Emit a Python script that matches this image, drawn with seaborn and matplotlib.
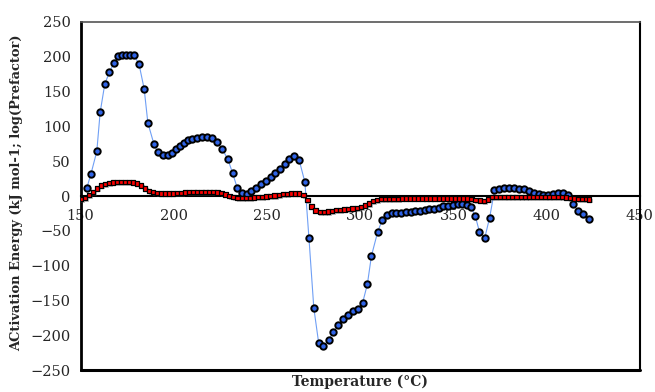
import matplotlib
matplotlib.use("Agg")
import matplotlib.pyplot as plt
import matplotlib.patheffects as pe
import seaborn as sns

# blue series: activation energy (kJ/mol)
blue_temp = [153.4, 155.5, 158.7, 160.5, 163.0, 165.5, 167.9, 170.0, 172.0, 174.1,
             176.3, 178.4, 181.3, 184.1, 186.1, 189.3, 191.4, 194.3, 196.8, 199.1,
             201.3, 203.4, 205.4, 207.5, 209.8, 212.5, 215.2, 217.9, 220.6, 223.3,
             225.8, 229.0, 231.5, 234.0, 236.5, 239.0, 241.5, 244.2, 246.7, 249.4,
             251.9, 254.4, 256.9, 259.5, 261.8, 264.5, 267.2, 270.3, 272.5, 275.1,
             277.7, 280.1, 283.0, 285.5, 288.1, 290.6, 293.2, 296.2, 298.7, 301.3,
             303.8, 306.0, 309.4, 311.7, 314.2, 316.8, 319.2, 321.7, 324.3, 327.0,
             329.4, 331.9, 334.5, 336.9, 339.4, 342.1, 344.6, 347.1, 349.8, 352.3,
             354.8, 357.1, 359.4, 361.7, 363.9, 366.7, 369.4, 372.0, 374.3, 377.0,
             379.6, 382.3, 385.0, 387.7, 390.4, 393.0, 395.6, 398.2, 400.8, 403.4,
             406.0, 408.7, 411.3, 414.1, 417.0, 419.7, 422.7]
blue_val = [12, 31, 64, 120, 161, 178, 191, 201, 203, 203,
            203, 203, 190, 154, 105, 75, 63, 59, 59, 62,
            67, 72, 76, 80, 82, 84, 85, 85, 83, 78,
            68, 53, 33, 12, 4, 3, 7, 12, 17, 22,
            27, 33, 39, 46, 53, 57, 52, 20, -61, -161,
            -211, -216, -207, -196, -185, -177, -171, -165, -162, -153,
            -127, -86, -51, -35, -27, -25, -24, -24, -23, -22.5,
            -22, -21.5, -20, -19, -18, -17, -15, -14.5, -13, -12,
            -11, -12.5, -16, -29, -51, -61, -31, 8, 10, 11,
            11, 11, 10.5, 9.5, 7.5, 5, 3, 2, 2, 3,
            4, 5, 2, -12, -21.5, -26.5, -32.5]

# red series: log(prefactor)
red_temp = [150.3, 152.5, 154.6, 156.8, 158.9, 161.0, 163.2, 165.3, 167.5, 169.6,
            171.8, 173.9, 176.1, 178.2, 180.3, 182.5, 184.6, 186.8, 188.9, 191.1,
            193.2, 195.4, 197.5, 199.7, 201.8, 204.0, 206.1, 208.3, 210.5, 212.6,
            214.8, 216.9, 219.1, 221.2, 223.4, 225.5, 227.7, 229.8, 232.0, 234.2,
            236.5, 238.7, 240.9, 243.1, 245.3, 247.5, 249.7, 251.9, 254.1, 256.3,
            258.5, 260.7, 262.9, 265.1, 267.3, 269.5, 271.7, 273.9, 276.1, 278.3,
            280.5, 282.7, 284.9, 287.1, 289.3, 291.5, 293.7, 295.9, 298.1, 300.3,
            302.5, 304.7, 306.9, 309.1, 311.3, 313.5, 315.7, 317.9, 320.1, 322.3,
            324.5, 326.7, 328.9, 331.1, 333.3, 335.5, 337.7, 339.9, 342.1, 344.3,
            346.5, 348.7, 350.9, 353.1, 355.3, 357.5, 359.7, 361.9, 364.1, 366.3,
            368.5, 370.7, 372.9, 375.1, 377.3, 379.5, 381.7, 383.9, 386.1, 388.3,
            390.5, 392.7, 394.9, 397.1, 399.3, 401.5, 403.7, 405.9, 408.1, 410.3,
            412.5, 414.7, 416.9, 419.1, 421.3, 422.7]
red_val = [-4, -2.5, 1, 6, 11, 15, 17, 18.5, 19.5, 20,
           20, 20, 20, 19.5, 18, 15, 11, 7.5, 5.5, 4,
           3.5, 3.5, 3.5, 3.5, 4, 4.5, 5, 5.5, 6, 6,
           6, 6, 6, 5.7, 5.3, 4.3, 2.4, 0, -1.5, -2.5,
           -3, -3, -2.5, -2, -1.5, -1, -0.5, 0, 0.5, 1.5,
           2.5, 3, 3.5, 3.5, 3.5, 1, -6, -15, -21, -23,
           -23, -22.5, -21.5, -20.5, -20, -19.5, -19, -18, -17, -15.5,
           -13.5, -11, -7.5, -5.5, -4.5, -4, -4, -4, -4, -3.5,
           -3.5, -3.5, -3.5, -3.5, -3.5, -3.5, -3.5, -3.5, -3.5, -3.5,
           -3.5, -3.5, -3.5, -3.5, -3.5, -3.5, -4.5, -5.5, -6.5, -7,
           -5, -1.5, -1, -1, -1, -1, -1, -1, -1, -1,
           -1, -1, -1, -1, -1, -1, -1, -1, -1, -2,
           -3, -3.5, -4, -4.3, -4.5, -5]

x_ticks = [150, 200, 250, 300, 350, 400, 450]
y_ticks = [-250, -200, -150, -100, -50, 0, 50, 100, 150, 200, 250]

sns.set_style("white")
plt.rcParams["font.family"] = ["DejaVu Serif"]

fig = plt.figure(figsize=(6.55, 3.92), dpi=100)
ax = fig.add_axes([0.123, 0.056, 0.854, 0.888])

shadow = [pe.SimplePatchShadow(offset=(1.2, -1.2), shadow_rgbFace="0.3", alpha=0.35),
          pe.Normal()]

sns.lineplot(x=blue_temp, y=blue_val, ax=ax, color="#6f9ff5", linewidth=0.8,
             marker="o", markersize=4.6, markerfacecolor="#2f63e6",
             markeredgecolor="black", markeredgewidth=1.4, zorder=3)
sns.scatterplot(x=red_temp, y=red_val, ax=ax, marker="s", s=10, color="#ff0000",
                edgecolor="black", linewidth=0.9, zorder=4)
for coll in ax.collections:
    coll.set_path_effects(shadow)

ax.set_xlim(150, 450)
ax.set_ylim(-250, 250)
ax.set_xticks(x_ticks)
ax.set_yticks(y_ticks)

# x axis crosses at zero, frame kept around the plot
ax.spines["bottom"].set_position(("data", 0))
ax.spines["bottom"].set_linewidth(1.5)
ax.axhline(-250, color="black", lw=2.2, clip_on=False, zorder=5)
ax.spines["left"].set_linewidth(2)
ax.spines["right"].set_linewidth(1.5)
ax.spines["top"].set_linewidth(1.2)
ax.spines["top"].set_color("#555555")
for s in ax.spines.values():
    s.set_zorder(2)
ax.spines["left"].set_color("black")
ax.spines["right"].set_color("black")
ax.spines["bottom"].set_color("black")

ax.tick_params(axis="x", direction="in", length=4, width=1, pad=9, labelsize=10.5)
ax.tick_params(axis="y", direction="in", length=4, width=1, pad=7, labelsize=10.5)

ax.set_xlabel("Temperature (°C)", fontsize=10, fontweight="bold")
ax.xaxis.set_label_coords(0.5, -0.014)
ax.set_ylabel("ACtivation Energy (kJ mol-1; log(Prefactor)", fontsize=9.4,
              fontweight="bold")
ax.yaxis.set_label_coords(-0.102, 0.51)

plt.savefig("out.png", dpi=100)
